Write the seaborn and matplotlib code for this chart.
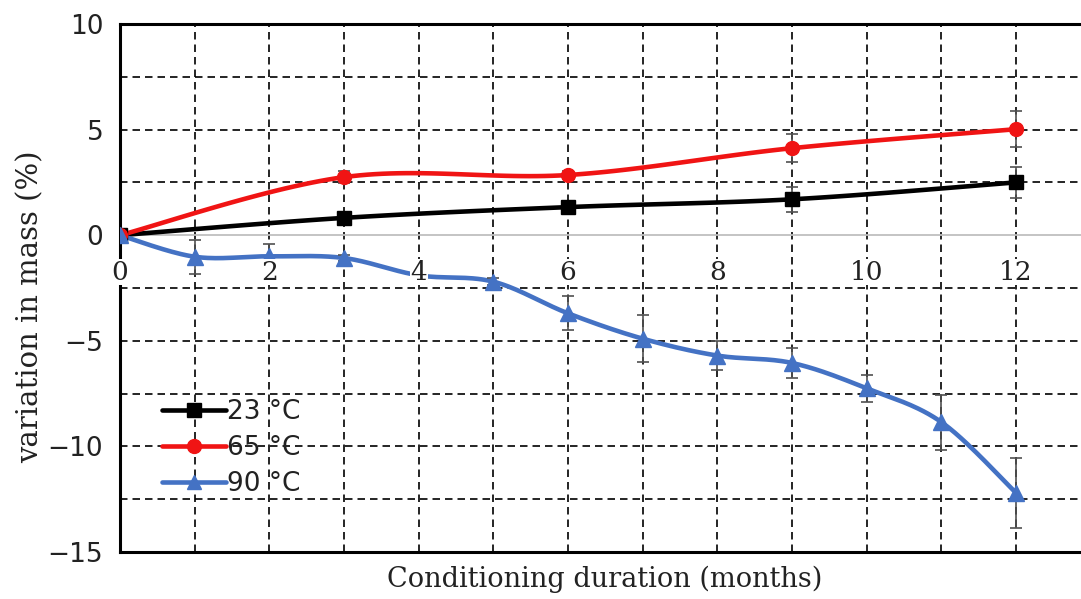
import numpy as np
import pandas as pd
import seaborn as sns
import matplotlib.pyplot as plt
from matplotlib.lines import Line2D

# ---- data ----
months_23 = [0, 3, 6, 9, 12]
mass_23 = [0.0, 0.82, 1.33, 1.70, 2.50]
err_23 = [0.0, 0.15, 0.15, 0.6, 0.75]

months_65 = [0, 3, 6, 9, 12]
mass_65 = [0.0, 2.75, 2.85, 4.12, 5.02]
err_65 = [0.0, 0.3, 0.2, 0.65, 0.85]

months_90 = [0, 1, 2, 3, 4, 5, 6, 7, 8, 9, 10, 11, 12]
mass_90 = [0.0, -1.02, -1.0, -1.08, -1.9, -2.2, -3.7, -4.9, -5.7, -6.05, -7.25, -8.85, -12.2]
err_90 = [0.0, 0.8, 0.6, 0.15, 0.2, 0.15, 0.8, 1.1, 0.7, 0.7, 0.65, 1.3, 1.65]

labels = ["23 °C", "65 °C", "90 °C"]
colors = ["#000000", "#f01414", "#4472c4"]
markers = ["s", "o", "^"]

x_ticks = [0, 2, 4, 6, 8, 10, 12]
y_ticks = [-15, -10, -5, 0, 5, 10]


def smooth(x, y, n=30):
    """Catmull-Rom style smoothing (as in spreadsheet 'smoothed line')."""
    P = np.column_stack([x, y]).astype(float)
    P = np.vstack([P[0], P, P[-1]])
    out = []
    for i in range(1, len(P) - 2):
        p0, p1, p2, p3 = P[i - 1], P[i], P[i + 1], P[i + 2]
        c1 = p1 + (p2 - p0) / 6.0
        c2 = p2 - (p3 - p1) / 6.0
        t = np.linspace(0, 1, n)[:, None]
        seg = ((1 - t) ** 3) * p1 + 3 * ((1 - t) ** 2) * t * c1 + 3 * (1 - t) * t ** 2 * c2 + t ** 3 * p2
        out.append(seg if i == 1 else seg[1:])
    s = np.vstack(out)
    return s[:, 0], s[:, 1]


sns.set_theme(style="white")
plt.rcParams["font.family"] = ["DejaVu Sans"]

fig = plt.figure(figsize=(10.81, 5.99), dpi=100)
ax = fig.add_axes([120 / 1081, 47 / 599, 1 - 120 / 1081, 528 / 599])

ax.set_xlim(0, 12.87)
ax.set_ylim(-15, 10)

# grid
for gx in range(1, 13):
    ax.axvline(gx, color="black", lw=1.2, ls=(0, (4.5, 3)), zorder=1)
for gy in [-12.5, -10, -7.5, -5, -2.5, 2.5, 5, 7.5]:
    ax.axhline(gy, color="black", lw=1.2, ls=(0, (4.5, 3)), zorder=1)
ax.axhline(0, color="#bfbfbf", lw=1.3, zorder=1)

series = [(months_23, mass_23, err_23), (months_65, mass_65, err_65), (months_90, mass_90, err_90)]
for (mx, my, me), lab, c, m in zip(series, labels, colors, markers):
    sx, sy = smooth(mx, my)
    df = pd.DataFrame({"x": sx, "y": sy})
    sns.lineplot(data=df, x="x", y="y", color=c, lw=3.3, ax=ax, sort=False, zorder=3)
    ax.errorbar(mx, my, yerr=me, fmt="none", ecolor="#505050", elinewidth=1.2, capsize=4.5, capthick=1.2, zorder=4)
    ms = 10 if m != "^" else 11
    ax.plot(mx, my, ls="none", marker=m, color=c, ms=ms, zorder=5)

ax.set_xlabel("")
ax.set_ylabel("")

# spines
for s in ["left", "top", "bottom"]:
    ax.spines[s].set_visible(True)
    ax.spines[s].set_color("black")
    ax.spines[s].set_linewidth(2.2)
ax.spines["right"].set_visible(False)

ax.set_xticks([])
ax.set_yticks(y_ticks)
ax.set_yticklabels(["\u2212" + str(abs(v)) if v < 0 else str(v) for v in y_ticks],
                   fontsize=19, color="#222222")
ax.tick_params(axis="y", length=0, pad=12)

# x tick labels sit just below the zero line
for xv in x_ticks:
    ax.text(xv, -1.75, str(xv), ha="center", va="center", fontsize=19,
            family="DejaVu Serif", color="#222222", zorder=6,
            bbox=dict(facecolor="white", edgecolor="none", pad=0.5))

fig.text(605 / 1081, 20 / 599, "Conditioning duration (months)",
         ha="center", va="center", fontsize=19.5, family="DejaVu Serif", color="#222222")
fig.text(30 / 1081, (599 - 307) / 599, "variation in mass (%)",
         ha="center", va="center", rotation=90, fontsize=21, family="DejaVu Serif", color="#222222")

handles = [Line2D([0], [0], color=c, lw=3.3, marker=m, ms=10) for c, m in zip(colors, markers)]
leg = ax.legend(handles, labels, loc="upper left", bbox_to_anchor=(0.033, 0.31), frameon=False,
                fontsize=19, handlelength=2.4, handletextpad=0.05, labelspacing=0.38,
                borderaxespad=0)
for t in leg.get_texts():
    t.set_color("#222222")

fig.savefig("out.png", dpi=100)
